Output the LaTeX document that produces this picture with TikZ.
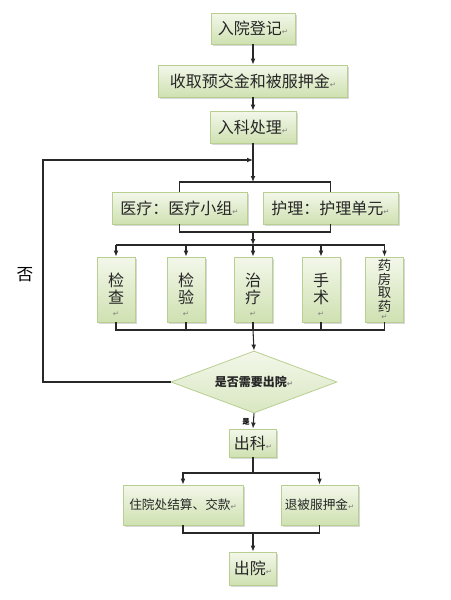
\documentclass[tikz,border=0pt]{standalone}
\usepackage{fontspec}
\setmainfont{Noto Sans CJK SC}
\newfontfamily\djv{DejaVu Sans}
\usetikzlibrary{arrows.meta,shapes.geometric,shadows}
\definecolor{bfillA}{RGB}{243,247,234}
\definecolor{bfillB}{RGB}{207,225,177}
\definecolor{bdraw}{RGB}{184,207,145}
\definecolor{lncol}{RGB}{40,40,40}
\newcommand{\retmk}{{\djv\fontsize{5.5pt}{5.5pt}\selectfont\textcolor{black!50}{↵}}}
\tikzset{
  box/.style={draw=bdraw, line width=0.6pt, top color=bfillA, bottom color=bfillB,
    inner sep=0pt, font=\fontsize{12pt}{14pt}\selectfont, text=black!85,
    drop shadow={shadow xshift=1.2pt, shadow yshift=-1.2pt, fill=black!30, opacity=0.5}},
  vbox/.style={box, align=center, font=\fontsize{12pt}{12.5pt}\selectfont},
  dbox/.style={diamond, draw=bdraw, line width=0.6pt, top color=bfillA, bottom color=bfillB!80!white,
    inner sep=0pt, aspect=2.68, font=\bfseries\fontsize{9pt}{10pt}\selectfont, text=black!85},
  ln/.style={draw=lncol, line width=0.8pt},
  arr/.style={ln, -{Latex[length=4.5pt,width=3.6pt]}}
}
\begin{document}
\begin{tikzpicture}[x=0.75pt,y=-0.75pt]
\useasboundingbox (0,0) rectangle (450,600);
\fill[white] (0,0) rectangle (450,600);
% nodes
\node[box, minimum width=63pt, minimum height=23.25pt] (n1) at (253,28.5) {入院登记\retmk};
\node[box, minimum width=141.75pt, minimum height=24pt] (n2) at (253,81) {收取预交金和被服押金\retmk};
\node[box, minimum width=64.5pt, minimum height=24pt] (n3) at (253,127) {入科处理\retmk};
\node[box, minimum width=101.25pt, minimum height=24pt] (med) at (179.5,208) {医疗：医疗小组\retmk};
\node[box, minimum width=101.25pt, minimum height=24pt] (nur) at (330.5,208) {护理：护理单元\retmk};
\node[vbox, minimum width=28.5pt, minimum height=48.75pt] (v1) at (116,289.5) {\rule{0pt}{18pt}检\\查\\[-3pt]\retmk};
\node[vbox, minimum width=28.5pt, minimum height=48.75pt] (v2) at (186,289.5) {\rule{0pt}{18pt}检\\验\\[-3pt]\retmk};
\node[vbox, minimum width=28.5pt, minimum height=48.75pt] (v3) at (253,289.5) {\rule{0pt}{18pt}治\\疗\\[-3pt]\retmk};
\node[vbox, minimum width=28.5pt, minimum height=48.75pt] (v4) at (321,289.5) {\rule{0pt}{18pt}手\\术\\[-3pt]\retmk};
\node[vbox, minimum width=28.5pt, minimum height=48.75pt, font=\fontsize{10pt}{10.3pt}\selectfont] (v5) at (384.5,289.5) {药\\房\\取\\药\\[-4pt]\retmk};
\node[dbox, minimum width=124.5pt, minimum height=46.5pt] (dia) at (254,382) {是否需要出院\retmk};
\node[box, minimum width=35.25pt, minimum height=21pt] (out1) at (253,443) {出科\retmk};
\node[box, minimum width=90pt, minimum height=30pt, font=\fontsize{9.5pt}{11pt}\selectfont] (s1) at (183,505) {住院处结算、交款\retmk};
\node[box, minimum width=57.75pt, minimum height=30pt, font=\fontsize{9.5pt}{11pt}\selectfont] (s2) at (319.5,505) {退被服押金\retmk};
\node[box, minimum width=35.25pt, minimum height=24.75pt] (fin) at (253,568.5) {出院\retmk};
\node[font=\fontsize{12.5pt}{14pt}\selectfont] (no) at (25,275) {否};
\node[font=\bfseries\fontsize{5.5pt}{6pt}\selectfont] (yes) at (246,422) {是};
% junctions
\coordinate (j0) at (253,160);
\coordinate (j1) at (253,182);
\coordinate (j2) at (253,232);
\coordinate (j3) at (253,245);
\coordinate (j4) at (253,330);
\coordinate (j5) at (253,473);
\coordinate (j6) at (253,533);
\coordinate (lp) at (43,160);
% connectors
\draw[arr] (n1.south) -- (n2.north);
\draw[arr] (n2.south) -- (n3.north);
\draw[ln] (n3.south) -- (j0);
\draw[arr] (j0) -- (j1);
\draw[ln] (med.north) |- (j1) -| (nur.north);
\draw[ln] (med.south) |- (j2) -| (nur.south);
\draw[arr] (j2) -- (j3);
\draw[ln] (j3 -| v1) -- (j3 -| v5);
\foreach \v in {v1,v2,v3,v4,v5} {\draw[arr] (j3 -| \v) -- (\v.north);}
\draw[ln] (v1.south) |- (j4) -| (v5.south);
\foreach \v in {v2,v3,v4} {\draw[ln] (\v.south) -- (j4 -| \v);}
\draw[arr] (j4) -- (dia.north);
\draw[arr] (dia.west) -| (lp) -- (j0);
\draw[arr] (dia.south) -- (out1.north);
\draw[ln] (out1.south) -- (j5);
\draw[arr] (j5) -| (s1.north);
\draw[arr] (j5) -| (s2.north);
\draw[ln] (s1.south) |- (j6) -| (s2.south);
\draw[arr] (j6) -- (fin.north);
\end{tikzpicture}
\end{document}
